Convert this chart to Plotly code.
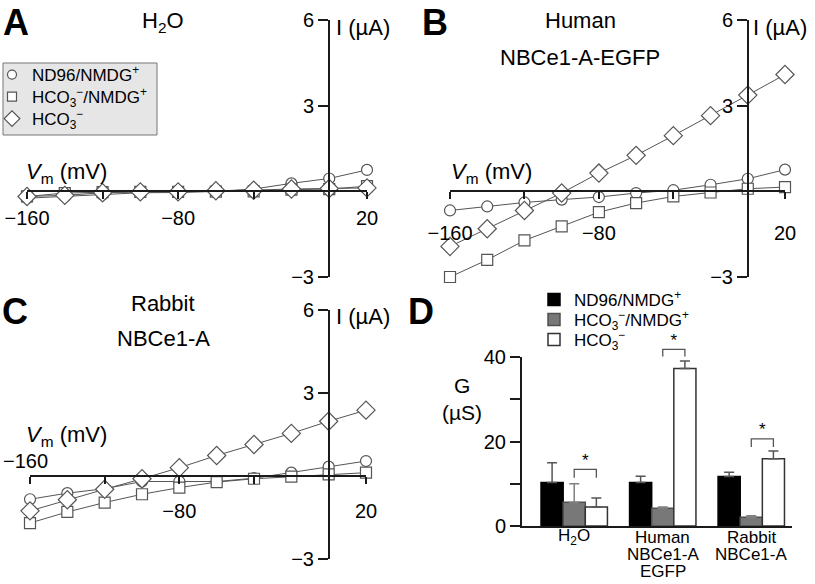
import plotly.graph_objects as go

# ---------------- data ----------------
V_MV = [-160, -140, -120, -100, -80, -60, -40, -20, 0, 20]

A_ND96 = [-0.24, -0.18, -0.12, -0.05, -0.04, 0.0, 0.08, 0.28, 0.45, 0.75]
A_HCO3_NMDG = [-0.18, -0.06, -0.03, -0.02, -0.02, -0.01, 0.0, 0.06, 0.08, 0.18]
A_HCO3 = [-0.18, -0.14, -0.05, -0.02, -0.02, 0.02, 0.04, 0.08, 0.10, 0.12]

B_ND96 = [-0.67, -0.53, -0.39, -0.29, -0.20, -0.06, 0.04, 0.23, 0.44, 0.76]
B_HCO3_NMDG = [-3.0, -2.4, -1.72, -1.23, -0.73, -0.41, -0.18, -0.04, 0.09, 0.15]
B_HCO3 = [-1.93, -1.31, -0.67, -0.06, 0.64, 1.26, 1.95, 2.65, 3.37, 4.09]

C_ND96 = [-0.84, -0.62, -0.46, -0.20, -0.20, -0.20, -0.08, 0.12, 0.34, 0.54]
C_HCO3_NMDG = [-1.7, -1.3, -0.96, -0.66, -0.42, -0.22, -0.10, -0.02, 0.06, 0.12]
C_HCO3 = [-1.26, -0.86, -0.48, -0.10, 0.30, 0.74, 1.14, 1.54, 1.98, 2.38]

SERIES_NAMES = ["ND96/NMDG<sup>+</sup>", "HCO<sub>3</sub><sup>−</sup>/NMDG<sup>+</sup>", "HCO<sub>3</sub><sup>−</sup>"]
GROUPS = ["H<sub>2</sub>O", "Human<br>NBCe1-A<br>EGFP", "Rabbit<br>NBCe1-A"]
G_ND96 = [10.3, 10.3, 11.7]
G_ND96_ERR = [4.65, 1.5, 1.0]
G_HCO3_NMDG = [5.6, 4.2, 2.1]
G_HCO3_NMDG_ERR = [4.4, 0.3, 0.3]
G_HCO3 = [4.5, 37.3, 15.9]
G_HCO3_ERR = [2.1, 1.75, 1.85]
SIG_TOP = [13.4, 41.8, 20.6]
SIG_DROP = [11.4, 40.1, 18.7]

IV_XTICKS = [-160, -120, -80, -40, 20]
IV_XTICKTEXT = ["−160", "", "−80", "", "20"]
IV_YTICKS = [-3, 3, 6]
IV_YTICKTEXT = ["−3", "3", "6"]
G_TICKS = [0, 10, 20, 30, 40]
G_TICKTEXT = ["0", "", "20", "", "40"]

FONT = "Liberation Sans, Arial, sans-serif"
W, H = 815, 584
LINE_C = "#555555"
AX_C = "#1a1a1a"


def px(x):
    return x / W


def py(y):
    return 1 - y / H


fig = go.Figure()

symbols = ["circle", "square", "diamond"]
sizes = [11, 11, 14]

panels = [
    ("x", "y", [A_ND96, A_HCO3_NMDG, A_HCO3]),
    ("x2", "y2", [B_ND96, B_HCO3_NMDG, B_HCO3]),
    ("x3", "y3", [C_ND96, C_HCO3_NMDG, C_HCO3]),
]
for xa, ya, series in panels:
    for k, vals in enumerate(series):
        fig.add_trace(go.Scatter(
            x=V_MV, y=vals, xaxis=xa, yaxis=ya, mode="lines+markers",
            line=dict(color=LINE_C, width=1),
            marker=dict(symbol=symbols[k], size=sizes[k], color="white",
                        line=dict(color=LINE_C, width=1.2)),
            cliponaxis=False, showlegend=False, hoverinfo="skip"))

# legends: one legend per entry so rows can sit as tightly as in the original
IV_LEGENDS = ["legend", "legend2", "legend3"]
BAR_LEGENDS = ["legend4", "legend5", "legend6"]
IV_LEG_ROWS = [75, 97, 119]
BAR_LEG_ROWS = [300, 320, 340]

for k, name in enumerate(SERIES_NAMES):
    fig.add_trace(go.Scatter(
        x=[None], y=[None], xaxis="x", yaxis="y", mode="markers", name=name,
        marker=dict(symbol=symbols[k], size=sizes[k] - 2, color="white",
                    line=dict(color=LINE_C, width=1.2)),
        legend=IV_LEGENDS[k], showlegend=True))

# bar panel D
gx = list(range(len(GROUPS)))
bar_specs = [
    (G_ND96, G_ND96_ERR, "black", "black", "#555555"),
    (G_HCO3_NMDG, G_HCO3_NMDG_ERR, "#787878", "#505050", "#808080"),
    (G_HCO3, G_HCO3_ERR, "white", "#333333", "#555555"),
]
for k, (vals, err, col, lc, ec) in enumerate(bar_specs):
    fig.add_trace(go.Bar(
        x=gx, y=vals, xaxis="x4", yaxis="y4", name=SERIES_NAMES[k],
        marker=dict(color=col, line=dict(color=lc, width=1.5)),
        error_y=dict(type="data", symmetric=False, array=err,
                     arrayminus=[0] * len(err), color=ec, thickness=1.5, width=5),
        cliponaxis=False, legend=BAR_LEGENDS[k], showlegend=True))

# significance brackets on an invisible axis with the same scale as y4 but taller
BARGAP = 0.25
bar_w = (1 - BARGAP) / 3
D_BOTTOM, D_TOP, D_EXT = 526, 357, 320          # pixel rows of 0, 40, extended top
G_MAX = 40
ext_top_val = G_MAX * (D_BOTTOM - D_EXT) / (D_BOTTOM - D_TOP)
bx, by = [], []
for i in gx:
    xl, xr = i, i + bar_w
    bx += [xl, xl, xr, xr, None]
    by += [SIG_DROP[i], SIG_TOP[i], SIG_TOP[i], SIG_DROP[i], None]
fig.add_trace(go.Scatter(x=bx, y=by, xaxis="x4", yaxis="y5", mode="lines",
                         line=dict(color=LINE_C, width=1.3), cliponaxis=False,
                         showlegend=False, hoverinfo="skip"))
fig.add_trace(go.Scatter(x=[i + bar_w / 2 for i in gx], y=[t + 1.9 for t in SIG_TOP],
                         xaxis="x4", yaxis="y5", mode="text", text=["*"] * len(gx),
                         textfont=dict(family=FONT, size=17, color="black"),
                         cliponaxis=False, showlegend=False, hoverinfo="skip"))

# ---------------- axes ----------------
def iv_xaxis(dom_px, pos_y, standoff=2, ticktext=IV_XTICKTEXT):
    return dict(domain=[px(dom_px[0]), px(dom_px[1])], range=[-160, 20], anchor="free",
                position=py(pos_y), showline=True, linecolor=AX_C, linewidth=2,
                ticks="outside", ticklen=7, tickwidth=1.5, tickcolor=AX_C,
                tickvals=IV_XTICKS, ticktext=ticktext, showgrid=False,
                zeroline=False, tickfont=dict(family=FONT, size=20, color="black"),
                ticklabelstandoff=standoff, automargin=False)


def iv_yaxis(dom_px, pos_x):
    return dict(domain=[py(dom_px[1]), py(dom_px[0])], range=[-3, 6], anchor="free",
                position=px(pos_x), showline=True, linecolor=AX_C, linewidth=2,
                ticks="outside", ticklen=10, tickwidth=1.5, tickcolor=AX_C,
                tickvals=IV_YTICKS, ticktext=IV_YTICKTEXT, showgrid=False,
                zeroline=False, tickfont=dict(family=FONT, size=20, color="black"),
                automargin=False)


C_XTICKTEXT = [""] + IV_XTICKTEXT[1:]


def leg(x, y, size=17):
    return dict(x=px(x), y=py(y), xanchor="left", yanchor="middle",
                bgcolor="rgba(0,0,0,0)", borderwidth=0,
                font=dict(family=FONT, size=size, color="black"), itemwidth=30)


layout_legends = {}
for k in range(3):
    layout_legends[IV_LEGENDS[k]] = leg(-8, IV_LEG_ROWS[k])
    layout_legends[BAR_LEGENDS[k]] = leg(534, BAR_LEG_ROWS[k])

fig.update_layout(
    xaxis=iv_xaxis((27, 367), 191.3),
    yaxis=iv_yaxis((20, 277), 329),
    xaxis2=iv_xaxis((450, 785), 191.3, standoff=17),
    yaxis2=iv_yaxis((20, 277), 748),
    xaxis3=iv_xaxis((30, 366), 476, standoff=10, ticktext=C_XTICKTEXT),
    yaxis3=iv_yaxis((310, 559), 329),
    xaxis4=dict(domain=[px(522), px(792)], range=[-0.59, 2.46], anchor="y4",
                showline=True, linecolor=AX_C, linewidth=2, ticks="",
                showticklabels=False, showgrid=False, zeroline=False, automargin=False),
    yaxis4=dict(domain=[py(D_BOTTOM), py(D_TOP)], range=[0, G_MAX], anchor="x4",
                showline=True, linecolor=AX_C, linewidth=2, ticks="outside",
                ticklen=10, tickwidth=1.5, tickcolor=AX_C, tickvals=G_TICKS,
                ticktext=G_TICKTEXT, showgrid=False, zeroline=False,
                tickfont=dict(family=FONT, size=20, color="black"), automargin=False),
    yaxis5=dict(domain=[py(D_BOTTOM), py(D_EXT)], range=[0, ext_top_val], anchor="x4",
                visible=False, showgrid=False, zeroline=False),
    barmode="group", bargap=BARGAP, bargroupgap=0,
    width=W, height=H, margin=dict(l=0, r=0, t=0, b=0, pad=0, autoexpand=False),
    paper_bgcolor="white", plot_bgcolor="rgba(0,0,0,0)",
    font=dict(family=FONT, size=19, color="black"),
    showlegend=True,
    **layout_legends,
)

# grey box behind the IV legend
fig.add_shape(type="rect", xref="paper", yref="paper", x0=px(3), x1=px(157),
              y0=py(135), y1=py(63), fillcolor="#e6e6e6",
              line=dict(color="#777777", width=1), layer="below")

ann = []


def add_text(text, x, y, size=20, xanchor="center", bold=False, yanchor="middle", **kw):
    ann.append(dict(text=("<b>%s</b>" % text) if bold else text, x=px(x), y=py(y),
                    xref="paper", yref="paper", xanchor=xanchor, yanchor=yanchor,
                    showarrow=False, font=dict(family=FONT, size=size, color="black"), **kw))


# panel letters
add_text("A", 1, 22, size=36, xanchor="left", bold=True)
add_text("B", 420, 22, size=36, xanchor="left", bold=True)
add_text("C", 0, 311, size=36, xanchor="left", bold=True)
add_text("D", 406, 311, size=36, xanchor="left", bold=True)

# panel titles
add_text("H<sub>2</sub>O", 163, 22, size=22)
add_text("Human", 580, 21, size=22)
add_text("NBCe1-A-EGFP", 580, 57, size=22)
add_text("Rabbit", 163, 303, size=22)
add_text("NBCe1-A", 163, 338, size=22)

# axis titles
for (xl, yc) in [(24, 173), (449, 173), (24, 436)]:
    add_text("<i>V</i><sub>m</sub> (mV)", xl, yc, size=22, xanchor="left")
for (xl, yc) in [(334, 28), (751, 28), (334, 316)]:
    add_text("I (µA)", xl, yc, size=22, xanchor="left")
add_text("G<br>(µS)", 462, 399, size=21)

# C: −160 label above the axis
ann.append(dict(text="−160", x=-160, y=0, xref="x3", yref="y3", xanchor="left",
                yanchor="bottom", xshift=-29, yshift=2, showarrow=False,
                font=dict(family=FONT, size=20, color="black")))

# D: category labels line by line
line_y = [537, 554, 571]
for i, g in enumerate(GROUPS):
    for j, part in enumerate(g.split("<br>")):
        ann.append(dict(text=part, x=i, y=py(line_y[j]), xref="x4", yref="paper",
                        xanchor="center", yanchor="middle", showarrow=False,
                        font=dict(family=FONT, size=17, color="black")))

fig.update_layout(annotations=ann)

fig.write_html("out.html", config={"displayModeBar": False},
               post_script="document.body.style.margin='0';")
